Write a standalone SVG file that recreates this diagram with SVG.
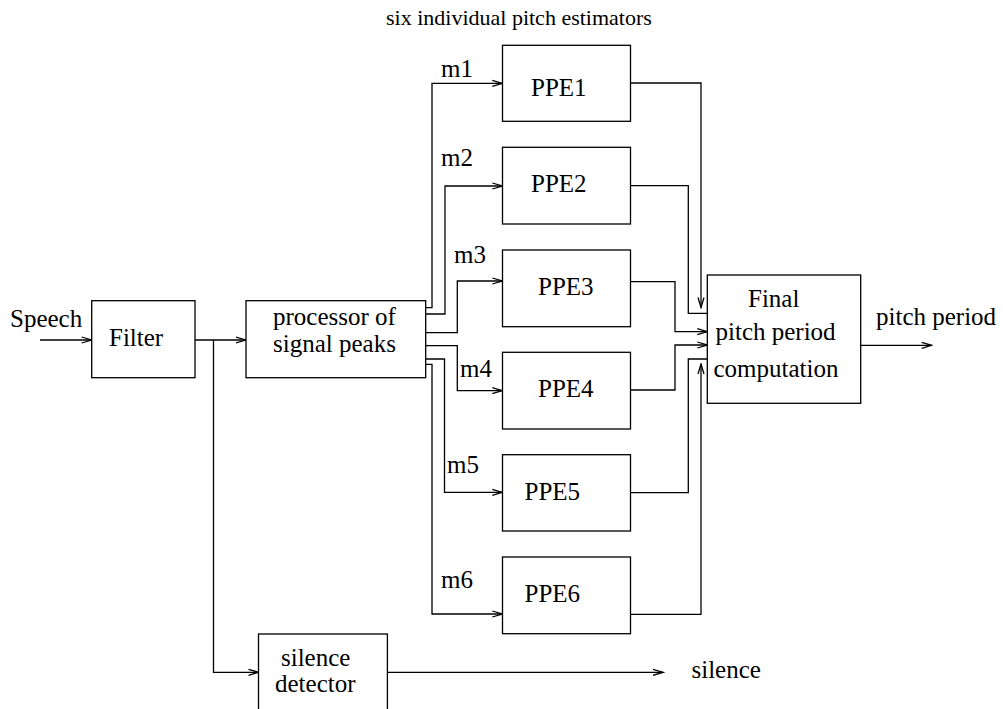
<svg xmlns="http://www.w3.org/2000/svg" width="1003" height="709" viewBox="0 0 1003 709">
<style>
.box{fill:#fff;stroke:#000;stroke-width:1.3}
.ln{fill:none;stroke:#000;stroke-width:1.3}
text{font-family:"Liberation Serif","Times New Roman",serif;font-size:25px;fill:#000}
.title{font-size:22px}
</style>
<defs>
<marker id="arr" markerUnits="userSpaceOnUse" markerWidth="12" markerHeight="9" refX="10.5" refY="4" orient="auto">
<path d="M0.5,1 L10.5,4 L0.5,7" fill="none" stroke="#000" stroke-width="1.3"/>
</marker>
</defs>
<rect width="1003" height="709" fill="#fff"/>
<text class="title" x="386" y="25">six individual pitch estimators</text>
<g id="connectors">
<path class="ln" d="M40,340 H91.7" marker-end="url(#arr)"/>
<path class="ln" d="M195,340 H246" marker-end="url(#arr)"/>
<path class="ln" d="M213.5,340 V672.3 H258.5" marker-end="url(#arr)"/>
<path class="ln" d="M387.4,672.3 H663" marker-end="url(#arr)"/>
<path class="ln" d="M425.7,307.7 H432 V83.3 H502.3" marker-end="url(#arr)"/>
<path class="ln" d="M425.7,314 H445 V186 H502.3" marker-end="url(#arr)"/>
<path class="ln" d="M425.7,332.7 H457.3 V281 H502.3" marker-end="url(#arr)"/>
<path class="ln" d="M425.7,345.7 H457.3 V390.7 H502.3" marker-end="url(#arr)"/>
<path class="ln" d="M425.7,359 H444.5 V492.3 H502.3" marker-end="url(#arr)"/>
<path class="ln" d="M425.7,364.3 H432 V614 H502.3" marker-end="url(#arr)"/>
<path class="ln" d="M630.7,83 H701 V307.5" marker-end="url(#arr)"/>
<path class="ln" d="M630.7,185.7 H688.3 V313.3 H707.3"/>
<path class="ln" d="M630.7,281.7 H675 V331.7 H707.3" marker-end="url(#arr)"/>
<path class="ln" d="M630.7,390 H675 V345 H707.3" marker-end="url(#arr)"/>
<path class="ln" d="M630.7,492.7 H688.3 V359 H707.3"/>
<path class="ln" d="M630.7,614.3 H701 V364" marker-end="url(#arr)"/>
<path class="ln" d="M860.7,345.3 H931.7" marker-end="url(#arr)"/>
</g>
<g id="labels">
<text x="10" y="327">Speech</text>
<text x="441" y="77">m1</text>
<text x="441" y="166">m2</text>
<text x="454" y="263">m3</text>
<text x="460" y="377">m4</text>
<text x="447" y="473">m5</text>
<text x="441" y="588">m6</text>
<text x="876" y="325">pitch period</text>
<text x="691.5" y="678">silence</text>
</g>
<g id="filter">
<rect class="box" x="91.7" y="300.7" width="103.3" height="77"/>
<text x="109" y="346">Filter</text>
</g>
<g id="processor">
<rect class="box" x="246" y="300.7" width="179.7" height="77"/>
<text x="273" y="325">processor of</text>
<text x="273" y="352">signal peaks</text>
</g>
<g id="ppe1">
<rect class="box" x="502.5" y="45.3" width="128" height="76"/>
<text x="531" y="96">PPE1</text>
</g>
<g id="ppe2">
<rect class="box" x="502.5" y="147.3" width="128" height="76.7"/>
<text x="531" y="192">PPE2</text>
</g>
<g id="ppe3">
<rect class="box" x="502.5" y="250" width="128" height="76.7"/>
<text x="538" y="295">PPE3</text>
</g>
<g id="ppe4">
<rect class="box" x="502.5" y="352.3" width="128" height="76.7"/>
<text x="538" y="397">PPE4</text>
</g>
<g id="ppe5">
<rect class="box" x="502.5" y="454.7" width="128" height="76.3"/>
<text x="524.5" y="500">PPE5</text>
</g>
<g id="ppe6">
<rect class="box" x="502.5" y="557" width="128" height="76.7"/>
<text x="524.5" y="602">PPE6</text>
</g>
<g id="final">
<rect class="box" x="707.3" y="275" width="153.4" height="128.3"/>
<text x="748" y="307">Final</text>
<text x="715.5" y="340">pitch period</text>
<text x="713.5" y="377">computation</text>
</g>
<g id="silence-detector">
<rect class="box" x="258.5" y="634" width="128.9" height="80"/>
<text x="281" y="666">silence</text>
<text x="275" y="692">detector</text>
</g>
</svg>
